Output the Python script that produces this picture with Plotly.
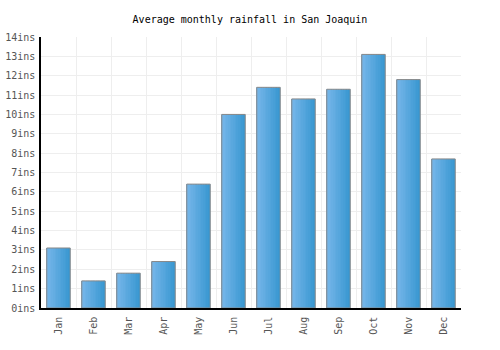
import plotly.graph_objects as go

months = ["Jan", "Feb", "Mar", "Apr", "May", "Jun", "Jul", "Aug", "Sep", "Oct", "Nov", "Dec"]
rainfall = [3.1, 1.4, 1.8, 2.4, 6.4, 10.0, 11.4, 10.8, 11.3, 13.1, 11.8, 7.7]
y_ticks = list(range(0, 15))
y_tick_labels = [f"{v}ins" for v in y_ticks]

FONT = "DejaVu Sans Mono"
bar_w = 0.67
n_slices = 14
c0 = (118, 182, 234)
c1 = (58, 152, 209)

fig = go.Figure()
sw = bar_w / n_slices
for i in range(n_slices):
    t = i / (n_slices - 1)
    col = tuple(round(c0[k] + (c1[k] - c0[k]) * t) for k in range(3))
    fig.add_trace(go.Bar(
        x=months, y=rainfall,
        width=sw * 1.05, offset=-bar_w / 2 + i * sw,
        marker=dict(color="rgb(%d,%d,%d)" % col, line=dict(width=0)),
        showlegend=False, hoverinfo="skip",
    ))
fig.add_trace(go.Bar(
    x=months, y=rainfall, width=bar_w, offset=-bar_w / 2,
    marker=dict(color="rgba(0,0,0,0)", line=dict(color="#888888", width=1)),
    showlegend=False,
))

fig.update_layout(
    width=500, height=350,
    margin=dict(l=41, r=39, t=37, b=42),
    paper_bgcolor="white", plot_bgcolor="white",
    barmode="overlay",
    title=dict(text="Average monthly rainfall in San Joaquin", x=0.5, xanchor="center",
               y=0.944, yanchor="middle",
               font=dict(family=FONT, size=10, color="#000000")),
    font=dict(family=FONT, size=10, color="#555555"),
)
fig.update_xaxes(
    type="category", range=[-0.5, 11.5], tickson="boundaries", automargin=False,
    showgrid=True, gridcolor="#eeeeee", gridwidth=1,
    showline=True, linecolor="#000000", linewidth=1.5,
    ticks="", tickangle=-90, ticklabelstandoff=3,
    tickfont=dict(family=FONT, size=10, color="#555555"),
)
fig.update_yaxes(
    range=[0, 14], tickmode="array", tickvals=y_ticks, ticktext=y_tick_labels,
    automargin=False, ticklabelstandoff=2,
    showgrid=True, gridcolor="#eeeeee", gridwidth=1,
    showline=True, linecolor="#000000", linewidth=1.5,
    ticks="", zeroline=False, tickfont=dict(family=FONT, size=10, color="#555555"),
)
fig.write_html("out.html")
